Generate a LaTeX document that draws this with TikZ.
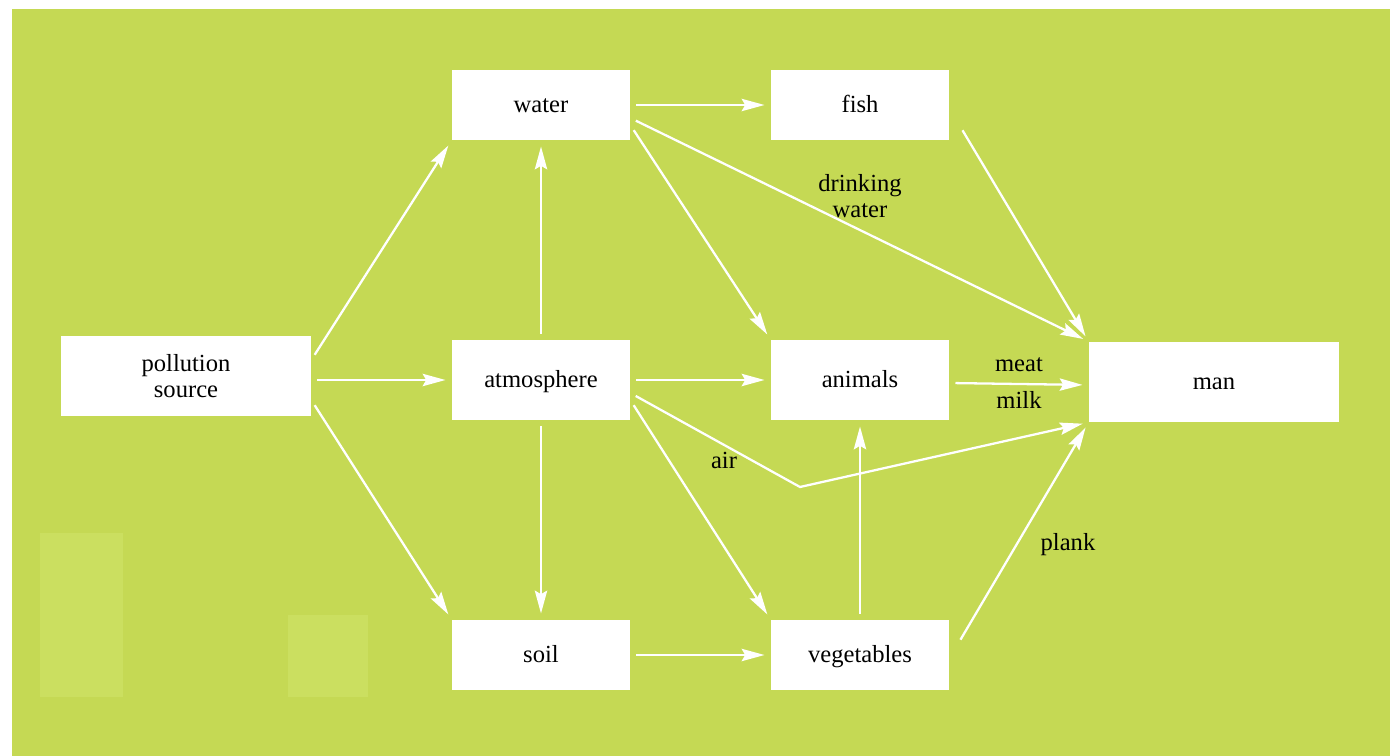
\documentclass[tikz,border=0pt]{standalone}
\usepackage{fontspec}
\setmainfont{Liberation Serif}
\usetikzlibrary{arrows.meta}
\definecolor{leaf}{RGB}{197,217,84}
\definecolor{leaflight}{RGB}{203,223,96}
\begin{document}
\begin{tikzpicture}[x=0.02cm, y=-0.02cm, font=\rmfamily\fontsize{14}{15}\selectfont,
  box/.style={fill=white, inner sep=0pt, align=center, text height=2.2ex, text depth=0.3ex,
    minimum width=3.56cm, minimum height=1.4cm},
  wide/.style={box, minimum width=5cm, minimum height=1.6cm},
  link/.style={draw=white, line width=1.3pt, -{Stealth[length=13pt,width=7pt,inset=2pt]},
    shorten >=3.5pt, shorten <=3.5pt},
  tag/.style={inner sep=1pt, align=center}]
  % page and background, 1 unit = 1 px of the sheet
  \useasboundingbox (0,0) rectangle (1390,756);
  \fill[white] (0,0) rectangle (1390,756);
  \fill[leaf] (12,9) rectangle (1390,756);
  \fill[leaflight] (40,533) rectangle (123,697);
  \fill[leaflight] (288,615) rectangle (368,697);
  % boxes
  \node[wide, text height=, text depth=] (src) at (186,376) {pollution\\source};
  \node[box] (water) at (541,105) {water};
  \node[box] (fish) at (860,105) {fish};
  \node[box, minimum height=1.6cm] (atmo) at (541,380) {atmosphere};
  \node[box, minimum height=1.6cm] (animals) at (860,380) {animals};
  \node[wide] (man) at (1214,382) {man};
  \node[box] (soil) at (541,655) {soil};
  \node[box] (veg) at (860,655) {vegetables};
  \coordinate (airbend) at (800,487);
  % links
  \draw[link] ([shift={(0,-16)}]src.east) -- (water.south west);
  \draw[link] ([shift={(0,4)}]src.east) -- (atmo.west);
  \draw[link] ([shift={(0,24)}]src.east) -- (soil.north west);
  \draw[link] (atmo.north) -- (water.south);
  \draw[link] (atmo.south) -- (soil.north);
  \draw[link] (water.east) -- (fish.west);
  \draw[link] ([shift={(0,13)}]water.east) -- (man.north west);
  \draw[link] ([shift={(0,20)}]water.east) -- (animals.north west);
  \draw[link] ([shift={(10,20)}]fish.east) -- (man.north west);
  \draw[link] (atmo.east) -- (animals.west);
  \draw[link] ([shift={(0,13)}]atmo.east) -- (airbend) -- (man.south west);
  \draw[link] ([shift={(0,20)}]atmo.east) -- (veg.north west);
  \draw[link] ([shift={(0,3)}]animals.east) -- ([shift={(0,3)}]man.west);
  \draw[link] (soil.east) -- (veg.west);
  \draw[link] (veg.north) -- (animals.south);
  \draw[link] ([shift={(8,-10)}]veg.east) -- (man.south west);
  % labels on the links
  \node[tag] (drink) at (860,196) {drinking\\water};
  \node[tag] (air) at (724,460) {air};
  \node[tag] (meat) at (1019,365) {meat};
  \node[tag] (milk) at (1019,400) {milk};
  \node[tag] (plank) at (1068,545) {plank};
\end{tikzpicture}
\end{document}
